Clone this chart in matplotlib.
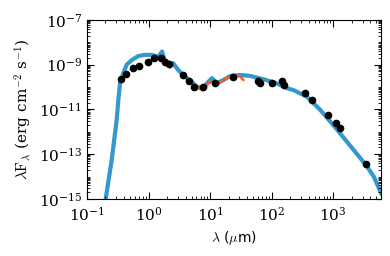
import numpy as np
import matplotlib
matplotlib.use('Agg')
from matplotlib import pyplot as plt
from matplotlib.ticker import LogLocator, NullFormatter

# model SED (log10 wavelength [um], log10 lambda*F_lambda)
model_logw = [-0.696, -0.60, -0.517, -0.49, -0.463, -0.41, -0.355, -0.27, -0.165, -0.057,
              0.05, 0.16, 0.22, 0.27, 0.35, 0.40, 0.48, 0.59, 0.70, 0.78, 0.89, 0.95,
              1.03, 1.11, 1.22, 1.33, 1.49, 1.65, 1.87, 2.08, 2.25, 2.35, 2.57, 2.79,
              3.0, 3.22, 3.44, 3.55, 3.66, 3.78]
model_logf = [-15.0, -13.3, -11.46, -10.57, -9.83, -9.38, -9.0, -8.79, -8.61, -8.56,
              -8.56, -8.64, -8.41, -8.86, -9.08, -8.93, -9.23, -9.53, -9.75, -9.98, -10.05, -9.83,
              -9.6, -9.83, -9.68, -9.5, -9.46, -9.5, -9.65, -9.83, -10.05, -10.13, -10.42, -11.02,
              -11.69, -12.43, -13.17, -13.55, -14.0, -14.75]

# IRS spectrum
irs_logw = [0.81, 0.89, 0.97, 1.05, 1.11, 1.19, 1.27, 1.38, 1.49, 1.54]
irs_logf = [-10.05, -10.15, -9.83, -9.75, -9.9, -9.75, -9.6, -9.46, -9.53, -9.68]

# photometry
phot_logw = [-0.45, -0.37, -0.26, -0.15, -0.013, 0.095, 0.21, 0.27, 0.33, 0.556, 0.66,
             0.745, 0.89, 1.08, 1.38, 1.78, 1.81, 2.0, 2.17, 2.2, 2.545, 2.65, 2.92,
             3.05, 3.11, 3.53]
phot_logf = [-9.63, -9.41, -9.16, -9.04, -8.89, -8.68, -8.71, -8.86, -8.96, -9.46, -9.75,
             -9.98, -10.0, -9.8, -9.53, -9.71, -9.83, -9.83, -9.75, -9.9, -10.27, -10.57, -11.27,
             -11.61, -11.85, -13.43]
phot_err = [0.0] * 22 + [0.08, 0.06, 0.06, 0.07]

plt.rcParams['mathtext.fontset'] = 'cm'
plt.rcParams['font.family'] = 'DejaVu Serif'

fig = plt.figure(figsize=(3.9, 2.56), dpi=100)
ax = fig.add_axes([0.223, 0.223, 0.754, 0.699])

w = 10 ** np.array(model_logw)
f = 10 ** np.array(model_logf)
ax.plot(w, f, color='#3399cc', lw=3, zorder=1)
ax.plot(10 ** np.array(irs_logw), 10 ** np.array(irs_logf), color='#ff5a1f', lw=1.8, zorder=2)

pf = 10 ** np.array(phot_logf)
perr = np.array(phot_err)
ax.errorbar(10 ** np.array(phot_logw), pf,
            yerr=[pf - pf / 10 ** perr, pf * 10 ** perr - pf],
            fmt='o', color='k', ms=4.5, elinewidth=1, capsize=0, zorder=3)

ax.set_xscale('log')
ax.set_yscale('log')
ax.set_xlim(0.1, 6000)
ax.set_ylim(1e-15, 1e-7)
ax.set_yticks([1e-15, 1e-13, 1e-11, 1e-9, 1e-7])
ax.yaxis.set_minor_locator(LogLocator(base=10, subs=np.arange(1, 10), numticks=20))
ax.yaxis.set_minor_formatter(NullFormatter())
ax.tick_params(which='both', direction='in', top=True, right=True)
ax.tick_params(which='major', length=5, labelsize=11)
ax.tick_params(axis='x', which='major', pad=5)
ax.tick_params(which='minor', length=2.5)

ax.set_xlabel(r'$\lambda$ ($\mu$m)', fontsize=10, family='DejaVu Sans')
ax.set_ylabel(r'$\mathrm{\lambda F_\lambda}$ (erg cm$^{-2}$ s$^{-1}$)', fontsize=11)

fig.savefig('out.png', dpi=100)
